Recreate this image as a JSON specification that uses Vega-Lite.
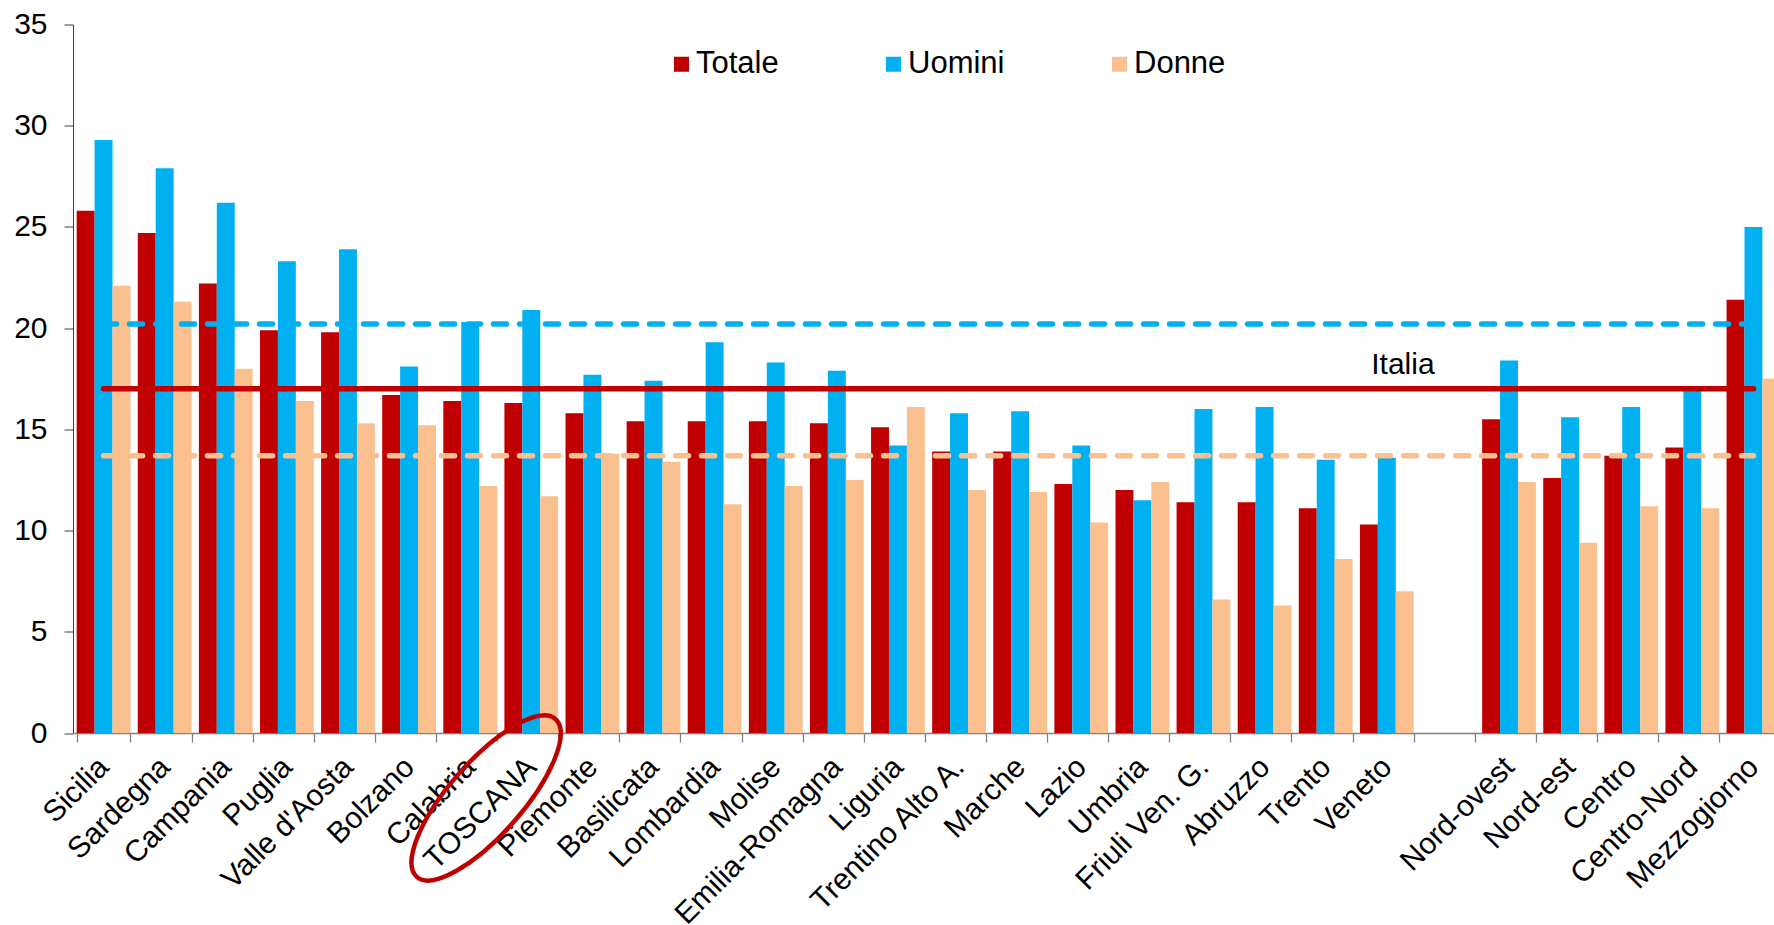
{
  "$schema": "https://vega.github.io/schema/vega-lite/v6.json",
  "width": 1701,
  "height": 708.5,
  "autosize": {"type": "none"},
  "padding": {"left": 73, "top": 24.5, "right": 0, "bottom": 192},
  "background": "white",
  "config": {
    "font": "Liberation Sans",
    "view": {"stroke": null},
    "axis": {"grid": false, "title": null, "labelFont": "Liberation Sans", "labelFontSize": 30, "labelColor": "#000000"}
  },
  "datasets": {
    "tassi": [
      {"regione": "Sicilia", "genere": "Totale", "valore": 25.8},
      {"regione": "Sicilia", "genere": "Uomini", "valore": 29.3},
      {"regione": "Sicilia", "genere": "Donne", "valore": 22.1},
      {"regione": "Sardegna", "genere": "Totale", "valore": 24.7},
      {"regione": "Sardegna", "genere": "Uomini", "valore": 27.9},
      {"regione": "Sardegna", "genere": "Donne", "valore": 21.3},
      {"regione": "Campania", "genere": "Totale", "valore": 22.2},
      {"regione": "Campania", "genere": "Uomini", "valore": 26.2},
      {"regione": "Campania", "genere": "Donne", "valore": 18.0},
      {"regione": "Puglia", "genere": "Totale", "valore": 19.9},
      {"regione": "Puglia", "genere": "Uomini", "valore": 23.3},
      {"regione": "Puglia", "genere": "Donne", "valore": 16.4},
      {"regione": "Valle d'Aosta", "genere": "Totale", "valore": 19.8},
      {"regione": "Valle d'Aosta", "genere": "Uomini", "valore": 23.9},
      {"regione": "Valle d'Aosta", "genere": "Donne", "valore": 15.3},
      {"regione": "Bolzano", "genere": "Totale", "valore": 16.7},
      {"regione": "Bolzano", "genere": "Uomini", "valore": 18.1},
      {"regione": "Bolzano", "genere": "Donne", "valore": 15.2},
      {"regione": "Calabria", "genere": "Totale", "valore": 16.4},
      {"regione": "Calabria", "genere": "Uomini", "valore": 20.3},
      {"regione": "Calabria", "genere": "Donne", "valore": 12.2},
      {"regione": "TOSCANA", "genere": "Totale", "valore": 16.3},
      {"regione": "TOSCANA", "genere": "Uomini", "valore": 20.9},
      {"regione": "TOSCANA", "genere": "Donne", "valore": 11.7},
      {"regione": "Piemonte", "genere": "Totale", "valore": 15.8},
      {"regione": "Piemonte", "genere": "Uomini", "valore": 17.7},
      {"regione": "Piemonte", "genere": "Donne", "valore": 13.8},
      {"regione": "Basilicata", "genere": "Totale", "valore": 15.4},
      {"regione": "Basilicata", "genere": "Uomini", "valore": 17.4},
      {"regione": "Basilicata", "genere": "Donne", "valore": 13.4},
      {"regione": "Lombardia", "genere": "Totale", "valore": 15.4},
      {"regione": "Lombardia", "genere": "Uomini", "valore": 19.3},
      {"regione": "Lombardia", "genere": "Donne", "valore": 11.3},
      {"regione": "Molise", "genere": "Totale", "valore": 15.4},
      {"regione": "Molise", "genere": "Uomini", "valore": 18.3},
      {"regione": "Molise", "genere": "Donne", "valore": 12.2},
      {"regione": "Emilia-Romagna", "genere": "Totale", "valore": 15.3},
      {"regione": "Emilia-Romagna", "genere": "Uomini", "valore": 17.9},
      {"regione": "Emilia-Romagna", "genere": "Donne", "valore": 12.5},
      {"regione": "Liguria", "genere": "Totale", "valore": 15.1},
      {"regione": "Liguria", "genere": "Uomini", "valore": 14.2},
      {"regione": "Liguria", "genere": "Donne", "valore": 16.1},
      {"regione": "Trentino Alto A.", "genere": "Totale", "valore": 13.9},
      {"regione": "Trentino Alto A.", "genere": "Uomini", "valore": 15.8},
      {"regione": "Trentino Alto A.", "genere": "Donne", "valore": 12.0},
      {"regione": "Marche", "genere": "Totale", "valore": 13.9},
      {"regione": "Marche", "genere": "Uomini", "valore": 15.9},
      {"regione": "Marche", "genere": "Donne", "valore": 11.9},
      {"regione": "Lazio", "genere": "Totale", "valore": 12.3},
      {"regione": "Lazio", "genere": "Uomini", "valore": 14.2},
      {"regione": "Lazio", "genere": "Donne", "valore": 10.4},
      {"regione": "Umbria", "genere": "Totale", "valore": 12.0},
      {"regione": "Umbria", "genere": "Uomini", "valore": 11.5},
      {"regione": "Umbria", "genere": "Donne", "valore": 12.4},
      {"regione": "Friuli Ven. G.", "genere": "Totale", "valore": 11.4},
      {"regione": "Friuli Ven. G.", "genere": "Uomini", "valore": 16.0},
      {"regione": "Friuli Ven. G.", "genere": "Donne", "valore": 6.6},
      {"regione": "Abruzzo", "genere": "Totale", "valore": 11.4},
      {"regione": "Abruzzo", "genere": "Uomini", "valore": 16.1},
      {"regione": "Abruzzo", "genere": "Donne", "valore": 6.3},
      {"regione": "Trento", "genere": "Totale", "valore": 11.1},
      {"regione": "Trento", "genere": "Uomini", "valore": 13.5},
      {"regione": "Trento", "genere": "Donne", "valore": 8.6},
      {"regione": "Veneto", "genere": "Totale", "valore": 10.3},
      {"regione": "Veneto", "genere": "Uomini", "valore": 13.6},
      {"regione": "Veneto", "genere": "Donne", "valore": 7.0},
      {"regione": "Nord-ovest", "genere": "Totale", "valore": 15.5},
      {"regione": "Nord-ovest", "genere": "Uomini", "valore": 18.4},
      {"regione": "Nord-ovest", "genere": "Donne", "valore": 12.4},
      {"regione": "Nord-est", "genere": "Totale", "valore": 12.6},
      {"regione": "Nord-est", "genere": "Uomini", "valore": 15.6},
      {"regione": "Nord-est", "genere": "Donne", "valore": 9.4},
      {"regione": "Centro", "genere": "Totale", "valore": 13.7},
      {"regione": "Centro", "genere": "Uomini", "valore": 16.1},
      {"regione": "Centro", "genere": "Donne", "valore": 11.2},
      {"regione": "Centro-Nord", "genere": "Totale", "valore": 14.1},
      {"regione": "Centro-Nord", "genere": "Uomini", "valore": 16.9},
      {"regione": "Centro-Nord", "genere": "Donne", "valore": 11.1},
      {"regione": "Mezzogiorno", "genere": "Totale", "valore": 21.4},
      {"regione": "Mezzogiorno", "genere": "Uomini", "valore": 25.0},
      {"regione": "Mezzogiorno", "genere": "Donne", "valore": 17.5}
    ],
    "medie": [
      {"serie": "Uomini", "valore": 20.2, "da": "Sicilia", "a": "Mezzogiorno", "etichetta": ""},
      {"serie": "Totale", "valore": 17.0, "da": "Sicilia", "a": "Mezzogiorno", "etichetta": "Italia"},
      {"serie": "Donne", "valore": 13.7, "da": "Sicilia", "a": "Mezzogiorno", "etichetta": ""}
    ],
    "evidenza": [
      {"regione": "TOSCANA"}
    ]
  },
  "layer": [
    {
      "data": {"name": "tassi"},
      "mark": {"type": "bar"},
      "encoding": {
        "x": {
          "field": "regione",
          "type": "nominal",
          "scale": {
            "domain": ["Sicilia", "Sardegna", "Campania", "Puglia", "Valle d'Aosta", "Bolzano", "Calabria", "TOSCANA", "Piemonte", "Basilicata", "Lombardia", "Molise", "Emilia-Romagna", "Liguria", "Trentino Alto A.", "Marche", "Lazio", "Umbria", "Friuli Ven. G.", "Abruzzo", "Trento", "Veneto", " ", "Nord-ovest", "Nord-est", "Centro", "Centro-Nord", "Mezzogiorno"],
            "range": [0, 1711],
            "paddingInner": 0.12,
            "paddingOuter": 0.06
          },
          "axis": {
            "tickBand": "extent",
            "domainColor": "#808080",
            "domainWidth": 1.5,
            "tickColor": "#808080",
            "tickWidth": 1.3,
            "tickSize": 9,
            "labelAngle": -45,
            "labelAlign": "right",
            "labelBaseline": "middle",
            "labelPadding": 20,
            "labelLimit": 0,
            "labelOverlap": false,
            "labelBound": false
          }
        },
        "xOffset": {
          "field": "genere",
          "type": "nominal",
          "sort": ["Totale", "Uomini", "Donne"],
          "scale": {"domain": ["Totale", "Uomini", "Donne"], "paddingInner": 0, "paddingOuter": 0}
        },
        "y": {
          "field": "valore",
          "type": "quantitative",
          "scale": {"domain": [0, 35], "nice": false, "zero": true},
          "axis": {
            "values": [0, 5, 10, 15, 20, 25, 30, 35],
            "domainColor": "#404040",
            "domainWidth": 1,
            "tickColor": "#404040",
            "tickSize": 9,
            "labelPadding": 17
          }
        },
        "color": {
          "field": "genere",
          "type": "nominal",
          "sort": ["Totale", "Uomini", "Donne"],
          "scale": {"domain": ["Totale", "Uomini", "Donne"], "range": ["#C00000", "#00B0F0", "#FAC090"]},
          "legend": {
            "title": null,
            "orient": "none",
            "legendX": 593,
            "legendY": 24,
            "direction": "horizontal",
            "padding": 0,
            "symbolType": "square",
            "symbolSize": 225,
            "symbolStrokeWidth": 0,
            "symbolOpacity": 1,
            "labelFont": "Liberation Sans",
            "labelFontSize": 31,
            "labelColor": "#000000",
            "labelOffset": -1,
            "columnPadding": 99,
            "labelLimit": 0
          }
        }
      }
    },
    {
      "data": {"name": "medie"},
      "mark": {"type": "rule", "strokeWidth": 5.5, "strokeCap": "round"},
      "encoding": {
        "x": {"field": "da", "type": "nominal", "bandPosition": 0.5},
        "x2": {"field": "a", "bandPosition": 0.5},
        "y": {"field": "valore", "type": "quantitative"},
        "stroke": {
          "field": "serie",
          "type": "nominal",
          "scale": {"domain": ["Totale", "Uomini", "Donne"], "range": ["#C00000", "#00B0F0", "#FAC090"]},
          "legend": null
        },
        "strokeDash": {
          "field": "serie",
          "type": "nominal",
          "scale": {"domain": ["Totale", "Uomini", "Donne"], "range": [[1, 0], [13, 13], [13, 13]]},
          "legend": null
        }
      }
    },
    {
      "data": {"name": "medie"},
      "transform": [{"filter": "datum.etichetta != ''"}],
      "mark": {"type": "text", "font": "Liberation Sans", "fontSize": 30, "color": "#000000", "align": "center", "baseline": "alphabetic", "dy": -14.5},
      "encoding": {
        "x": {"datum": "Veneto", "type": "nominal", "bandPosition": 0.8},
        "y": {"field": "valore", "type": "quantitative"},
        "text": {"field": "etichetta"}
      }
    },
    {
      "data": {"name": "evidenza"},
      "mark": {
        "type": "point",
        "shape": "M-1,0A1,0.348,0,1,0,1,0A1,0.348,0,1,0,-1,0Z",
        "size": 44100,
        "angle": -48.7,
        "filled": false,
        "stroke": "#C00000",
        "strokeWidth": 4.5,
        "opacity": 1
      },
      "encoding": {
        "x": {"field": "regione", "type": "nominal", "bandPosition": -0.34},
        "y": {"datum": -3.21, "type": "quantitative"}
      }
    }
  ]
}
